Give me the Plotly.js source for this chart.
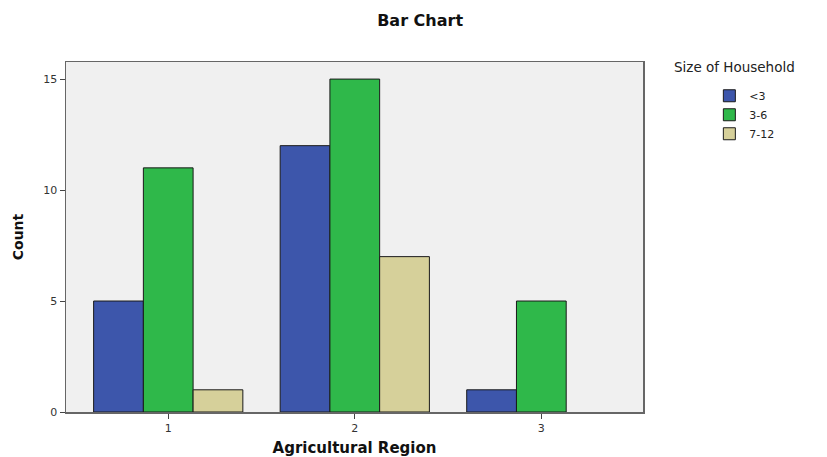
<!DOCTYPE html>
<html>
<head>
<meta charset="utf-8">
<script src="https://cdn.plot.ly/plotly-3.0.1.min.js"></script>
<style>html,body{margin:0;padding:0;background:#fff;}#chart{width:827px;height:457px;}</style>
</head>
<body>
<div id="chart"></div>
<script>
const categories = ['1', '2', '3'];
const seriesNames = ['<3', '3-6', '7-12'];
const lessThan3 = [5, 12, 1];
const from3to6 = [11, 15, 5];
const from7to12 = [1, 7, 0];
const yTicks = [0, 5, 10, 15];

const colors = ['#3d56ab', '#2fb84a', '#d6d09a'];
const values = [lessThan3, from3to6, from7to12];

const traces = seriesNames.map((name, i) => ({
  type: 'bar',
  name: name,
  x: categories.map(Number),
  // zero counts are not drawn as bars (as in the reference)
  y: values[i].map(v => (v === 0 ? null : v)),
  marker: {color: colors[i], line: {color: '#1a1a1a', width: 1}},
  hoverinfo: 'x+y+name'
}));

const layout = {
  width: 827, height: 457,
  margin: {l: 66, r: 184, t: 62, b: 45},
  paper_bgcolor: '#ffffff',
  plot_bgcolor: '#f0f0f0',
  font: {family: 'DejaVu Sans, Liberation Sans, Arial, sans-serif', color: '#222'},
  title: {text: '<b>Bar Chart</b>', x: 0.508, xref: 'container', xanchor: 'center', y: 0.955, yanchor: 'middle', font: {size: 16, color: '#111'}},
  barmode: 'group', bargap: 0.2, bargroupgap: 0,
  xaxis: {
    range: [0.452, 3.545], tickvals: [1, 2, 3], ticktext: categories,
    showgrid: false, zeroline: false, showline: true, linecolor: '#666', linewidth: 1.5, mirror: true,
    ticks: 'outside', ticklen: 5, tickcolor: '#444', tickfont: {size: 11, color: '#333'},
    title: {text: '<b>Agricultural Region</b>', font: {size: 15, color: '#111'}, standoff: 10}
  },
  yaxis: {
    range: [0, 15.77], tickvals: yTicks, ticktext: yTicks.map(String),
    showgrid: false, zeroline: false, showline: true, linecolor: '#666', linewidth: 1.5, mirror: true,
    ticks: 'outside', ticklen: 5, tickcolor: '#444', tickfont: {size: 11, color: '#333'},
    title: {text: '<b>Count</b>', font: {size: 14, color: '#111'}, standoff: 16}
  },
  showlegend: true,
  legend: {
    x: 1.115, xanchor: 'left', y: 0.945, yanchor: 'top',
    font: {size: 11, color: '#222'}, itemwidth: 30, tracegroupgap: 0,
    bgcolor: 'rgba(0,0,0,0)'
  },
  annotations: [{
    text: 'Size of Household', xref: 'paper', yref: 'paper', x: 1.05, y: 0.985,
    xanchor: 'left', yanchor: 'middle', showarrow: false, font: {size: 13.5, color: '#222'}
  }]
};

Plotly.newPlot('chart', traces, layout, {displayModeBar: false, staticPlot: true});
</script>
</body>
</html>
